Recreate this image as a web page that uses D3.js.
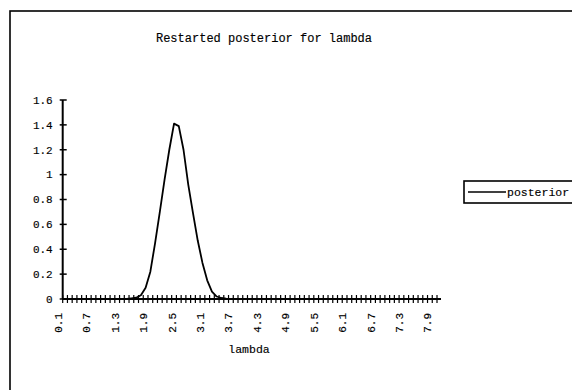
<!DOCTYPE html>
<html>
<head>
<meta charset="utf-8">
<script src="https://cdn.jsdelivr.net/npm/d3@7"></script>
<style>
  html, body { margin: 0; padding: 0; background: #fff; }
  svg text { font-family: "Liberation Mono", "DejaVu Sans Mono", monospace; fill: #000; stroke: #000; stroke-width: 0.15px; }
</style>
</head>
<body>
<svg id="chart" width="572" height="390"></svg>
<script>
// lambda grid 0.1 .. 7.9 in steps of 0.1
const lambdaLabels = ["0.1","0.2","0.3","0.4","0.5","0.6","0.7","0.8","0.9","1.0",
  "1.1","1.2","1.3","1.4","1.5","1.6","1.7","1.8","1.9","2.0",
  "2.1","2.2","2.3","2.4","2.5","2.6","2.7","2.8","2.9","3.0",
  "3.1","3.2","3.3","3.4","3.5","3.6","3.7","3.8","3.9","4.0",
  "4.1","4.2","4.3","4.4","4.5","4.6","4.7","4.8","4.9","5.0",
  "5.1","5.2","5.3","5.4","5.5","5.6","5.7","5.8","5.9","6.0",
  "6.1","6.2","6.3","6.4","6.5","6.6","6.7","6.8","6.9","7.0",
  "7.1","7.2","7.3","7.4","7.5","7.6","7.7","7.8","7.9"];

// posterior density at each lambda
const posterior = [0,0,0,0,0,0,0,0,0,0,
  0,0,0,0,0.005,0.01,0.03,0.09,0.22,0.45,
  0.70,0.96,1.20,1.41,1.39,1.20,0.92,0.69,0.47,0.29,
  0.15,0.06,0.02,0.008,0.003,0,0,0,0,0,
  0,0,0,0,0,0,0,0,0,0,
  0,0,0,0,0,0,0,0,0,0,
  0,0,0,0,0,0,0,0,0,0,
  0,0,0,0,0,0,0,0,0];

// every sixth category carries a label
const shownLabels = ["0.1","0.7","1.3","1.9","2.5","3.1","3.7","4.3","4.9","5.5","6.1","6.7","7.3","7.9"];
const yTicks = [0, 0.2, 0.4, 0.6, 0.8, 1, 1.2, 1.4, 1.6];

const title = "Restarted posterior for lambda";
const xTitle = "lambda";
const seriesName = "posterior";

const svg = d3.select("#chart");

// outer chart frame
svg.append("rect")
  .attr("x", 10).attr("y", 11)
  .attr("width", 620).attr("height", 420)
  .attr("fill", "none").attr("stroke", "#000").attr("stroke-width", 1.6);

const plot = { left: 62.7, right: 437, top: 100, bottom: 299 };

const x = d3.scaleBand()
  .domain(lambdaLabels)
  .range([plot.left, plot.right])
  .padding(0);

const y = d3.scaleLinear()
  .domain([0, 1.6])
  .range([plot.bottom, plot.top]);

// title
svg.append("text")
  .attr("x", 264).attr("y", 42)
  .attr("text-anchor", "middle")
  .attr("font-size", 12)
  .text(title);

// y axis
const yAxis = svg.append("g").attr("transform", `translate(${plot.left},0)`);
yAxis.append("line")
  .attr("x1", 0).attr("x2", 0)
  .attr("y1", y(1.6)).attr("y2", y(0))
  .attr("stroke", "#000").attr("stroke-width", 2);
yAxis.selectAll("line.tick").data(yTicks).join("line")
  .attr("class", "tick")
  .attr("x1", -3).attr("x2", 4)
  .attr("y1", d => y(d)).attr("y2", d => y(d))
  .attr("stroke", "#000").attr("stroke-width", 1.5);
yAxis.selectAll("text").data(yTicks).join("text")
  .attr("x", -10)
  .attr("y", d => y(d))
  .attr("dy", "0.35em")
  .attr("text-anchor", "end")
  .attr("font-size", 11)
  .text(d => String(d));

// x axis with a tick at every category boundary
const xAxis = svg.append("g").attr("transform", `translate(0,${plot.bottom})`);
xAxis.append("line")
  .attr("x1", plot.left).attr("x2", plot.right + 4)
  .attr("y1", 0).attr("y2", 0)
  .attr("stroke", "#000").attr("stroke-width", 2);
const boundaries = lambdaLabels.map(d => x(d)).concat([x(lambdaLabels[lambdaLabels.length - 1]) + x.bandwidth()]);
xAxis.selectAll("line.tick").data(boundaries).join("line")
  .attr("class", "tick")
  .attr("x1", d => d).attr("x2", d => d)
  .attr("y1", -4).attr("y2", 4)
  .attr("stroke", "#000").attr("stroke-width", 1.2);
xAxis.selectAll("text").data(shownLabels).join("text")
  .attr("transform", d => `translate(${x(d) + x.bandwidth() / 2 - 7},14) rotate(-90)`)
  .attr("text-anchor", "end")
  .attr("dy", "0.35em")
  .attr("font-size", 11)
  .text(d => d);

// x axis title
svg.append("text")
  .attr("x", 249).attr("y", 353)
  .attr("text-anchor", "middle")
  .attr("font-size", 11.5)
  .text(xTitle);

// posterior curve
const line = d3.line()
  .x((d, i) => x(lambdaLabels[i]) + x.bandwidth() / 2)
  .y(d => y(d));
svg.append("path")
  .datum(posterior)
  .attr("d", line)
  .attr("fill", "none")
  .attr("stroke", "#000")
  .attr("stroke-width", 1.8)
  .attr("stroke-linejoin", "round");

// legend
const legend = svg.append("g").attr("transform", "translate(464,181)");
legend.append("rect")
  .attr("x", 0).attr("y", 0)
  .attr("width", 120).attr("height", 22)
  .attr("fill", "#fff").attr("stroke", "#000").attr("stroke-width", 1.6);
legend.append("line")
  .attr("x1", 4).attr("x2", 42).attr("y1", 11).attr("y2", 11)
  .attr("stroke", "#000").attr("stroke-width", 1.5);
legend.append("text")
  .attr("x", 43).attr("y", 11).attr("dy", "0.35em")
  .attr("font-size", 11.5)
  .text(seriesName);
</script>
</body>
</html>
